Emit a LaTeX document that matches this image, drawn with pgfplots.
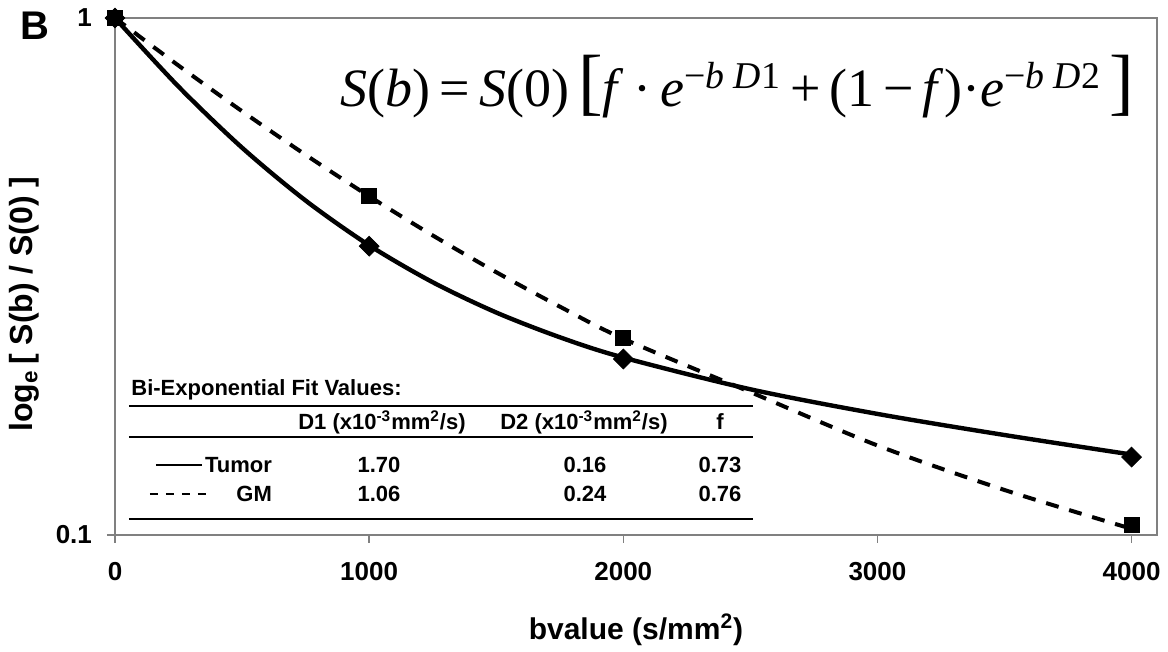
\documentclass[border=0pt]{standalone}
\usepackage{amsmath}
\usepackage{fontspec}
\setmainfont{Liberation Sans}
\newfontfamily\timesf{Liberation Serif}
\usepackage{pgfplots}
\pgfplotsset{compat=1.18}

\begin{document}
\begin{tikzpicture}[font=\bfseries]
\useasboundingbox (-57.5pt,-58.5pt) rectangle (526.5pt,267.5pt);
\begin{axis}[
  scale only axis, width=521pt, height=258.5pt,
  at={(0,0)}, anchor=south west,
  xmin=0, xmax=4100, ymode=log, ymin=0.1, ymax=1,
  xtick={0,1000,2000,3000,4000}, xticklabels={0,1000,2000,3000,4000},
  ytick={0.1,1}, yticklabels={0.1,1}, yminorticks=false,
  tick align=outside, major tick length=4pt, tick pos=left,
  axis line style={gray, line width=0.7pt}, tick style={gray, line width=0.7pt},
  ticklabel style={font=\fontsize{13}{15}\selectfont\bfseries},
  xticklabel style={yshift=-6pt}, yticklabel style={xshift=-4pt},
  /pgf/number format/assume math mode=true,
  clip=false]
% fitted curves (bi-exponential)
\addplot[black, line width=2.2pt, smooth, no marks] coordinates {
 (0,1.0) (250,0.7367) (500,0.5612) (750,0.4435) (1000,0.3634) (1250,0.3083)
 (1500,0.2694) (1750,0.2413) (2000,0.2204) (2500,0.1914) (3000,0.1715)
 (3500,0.1561) (4000,0.1431)};
\addplot[black, line width=2pt, smooth, no marks, dash pattern=on 6.5pt off 5.5pt] coordinates {
 (0,1.0) (250,0.8091) (500,0.6602) (750,0.5437) (1000,0.4521) (1250,0.3798)
 (1500,0.3224) (1750,0.2766) (2000,0.2397) (2500,0.189) (3000,0.1490)
 (3500,0.1222) (4000,0.1028)};
% measured points
\addplot[only marks, mark=square*, mark size=3.5pt, mark options={rotate=45, fill=black}] coordinates {
 (0,1.0) (1000,0.362) (2000,0.219) (4000,0.1415)};
\addplot[only marks, mark=square*, mark size=3.75pt, mark options={fill=black}] coordinates {
 (0,1.0) (1000,0.4536) (2000,0.241) (4000,0.1048)};
\end{axis}
% panel letter and axis labels
\node[font=\fontsize{20}{24}\selectfont\bfseries] at (-40pt,254.5pt) {B};
\node[rotate=90, font=\fontsize{16}{19}\selectfont\bfseries] at (-45.5pt,115.5pt)
  {log\textsubscript{e}\,[ S(b) / S(0) ]};
\node[font=\fontsize{15}{18}\selectfont\bfseries] at (260.5pt,-47.5pt)
  {bvalue (s/mm\textsuperscript{2})};
% equation
\node[anchor=base east, inner sep=0pt, font=\timesf\mdseries\fontsize{27}{28}\selectfont] at (510pt,214pt)
  {\textit{S}(\textit{b})\,=\,\textit{S}(0)\,{\fontsize{37}{37}\selectfont[}\textit{f}\,·\,\textit{e}\textsuperscript{−\textit{b D}1}\,+\,(1\,−\,\textit{f})·\textit{e}\textsuperscript{−\textit{b D}2}\,{\fontsize{37}{37}\selectfont]}};
% fit-values table
\begin{scope}[font=\fontsize{11}{13}\selectfont\bfseries]
\node[anchor=west, inner sep=0pt] at (8pt,72.5pt) {Bi-Exponential Fit Values:};
\draw[line width=1.4pt] (7pt,64.5pt) -- (319pt,64.5pt);
\draw[line width=1.1pt] (7pt,49pt) -- (319pt,49pt);
\draw[line width=1.4pt] (7pt,8pt) -- (319pt,8pt);
\node at (133.5pt,56.5pt) {D1 (x10\textsuperscript{-3}mm\textsuperscript{2}/s)};
\node at (234.5pt,56.5pt) {D2 (x10\textsuperscript{-3}mm\textsuperscript{2}/s)};
\node at (302.5pt,56.5pt) {f};
\draw[line width=0.6pt] (20.5pt,35pt) -- (43.5pt,35pt);
\node[anchor=east] at (82pt,35pt) {Tumor};
\node at (132pt,35pt) {1.70};
\node at (235pt,35pt) {0.16};
\node at (302.5pt,35pt) {0.73};
\draw[line width=1.2pt, dash pattern=on 4pt off 4pt] (17.5pt,20.5pt) -- (49pt,20.5pt);
\node[anchor=east] at (82pt,20.5pt) {GM};
\node at (132pt,20.5pt) {1.06};
\node at (235pt,20.5pt) {0.24};
\node at (302.5pt,20.5pt) {0.76};
\end{scope}
\end{tikzpicture}
\end{document}
